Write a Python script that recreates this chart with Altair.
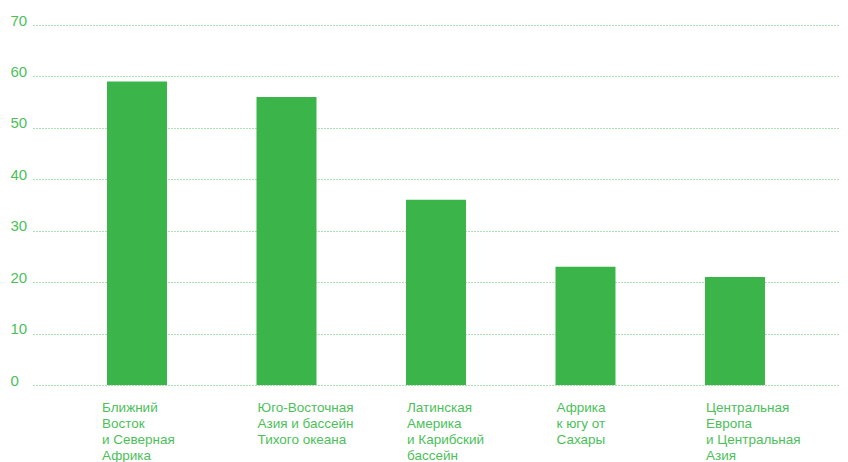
import altair as alt
import pandas as pd

regions = [
    "Ближний|Восток|и Северная|Африка",
    "Юго-Восточная|Азия и бассейн|Тихого океана",
    "Латинская|Америка|и Карибский|бассейн",
    "Африка|к югу от|Сахары",
    "Центральная|Европа|и Центральная|Азия",
]
values = [59, 56, 36, 23, 21]
y_ticks = [0, 10, 20, 30, 40, 50, 60, 70]

df = pd.DataFrame({"region": regions, "value": values})

GREEN = "#3bb54a"
TEXT = "#4cbf5a"

chart = alt.Chart(df).mark_bar(color=GREEN).encode(
    x=alt.X(
        "region:N",
        sort=None,
        title=None,
        scale=alt.Scale(paddingInner=0.5987, paddingOuter=0.4984, align=0.4966),
        axis=alt.Axis(
            labelExpr="split(datum.label, '|')",
            labelAngle=0,
            labelAlign="left",
            labelBaseline="top",
            labelOffset={"condition": {"test": "datum.index == 0", "value": -35}, "value": -29},
            labelPadding=15,
            labelFontSize=13.5,
            labelLineHeight=16,
            labelFont="Liberation Sans",
            labelColor=TEXT,
            domain=False,
            ticks=False,
            grid=False,
        ),
    ),
    y=alt.Y(
        "value:Q",
        title=None,
        scale=alt.Scale(domain=[0, 70], nice=False),
        axis=alt.Axis(
            values=y_ticks,
            labelAlign="left",
            labelBaseline="alphabetic",
            labelPadding=23,
            labelFontSize=15,
            labelFont="Liberation Sans",
            labelColor=TEXT,
            domain=False,
            ticks=False,
            grid=True,
            gridColor=TEXT,
            gridDash=[1, 2],
            gridWidth=1,
            gridOpacity=0.9,
        ),
    ),
).properties(
    width=807,
    height=360,
    autosize=alt.AutoSizeParams(type="none"),
    padding={"left": 25, "top": 17, "right": 0, "bottom": 77},
).configure_view(stroke=None)

chart.save("out.html", embed_options={"renderer": "svg", "actions": False})
